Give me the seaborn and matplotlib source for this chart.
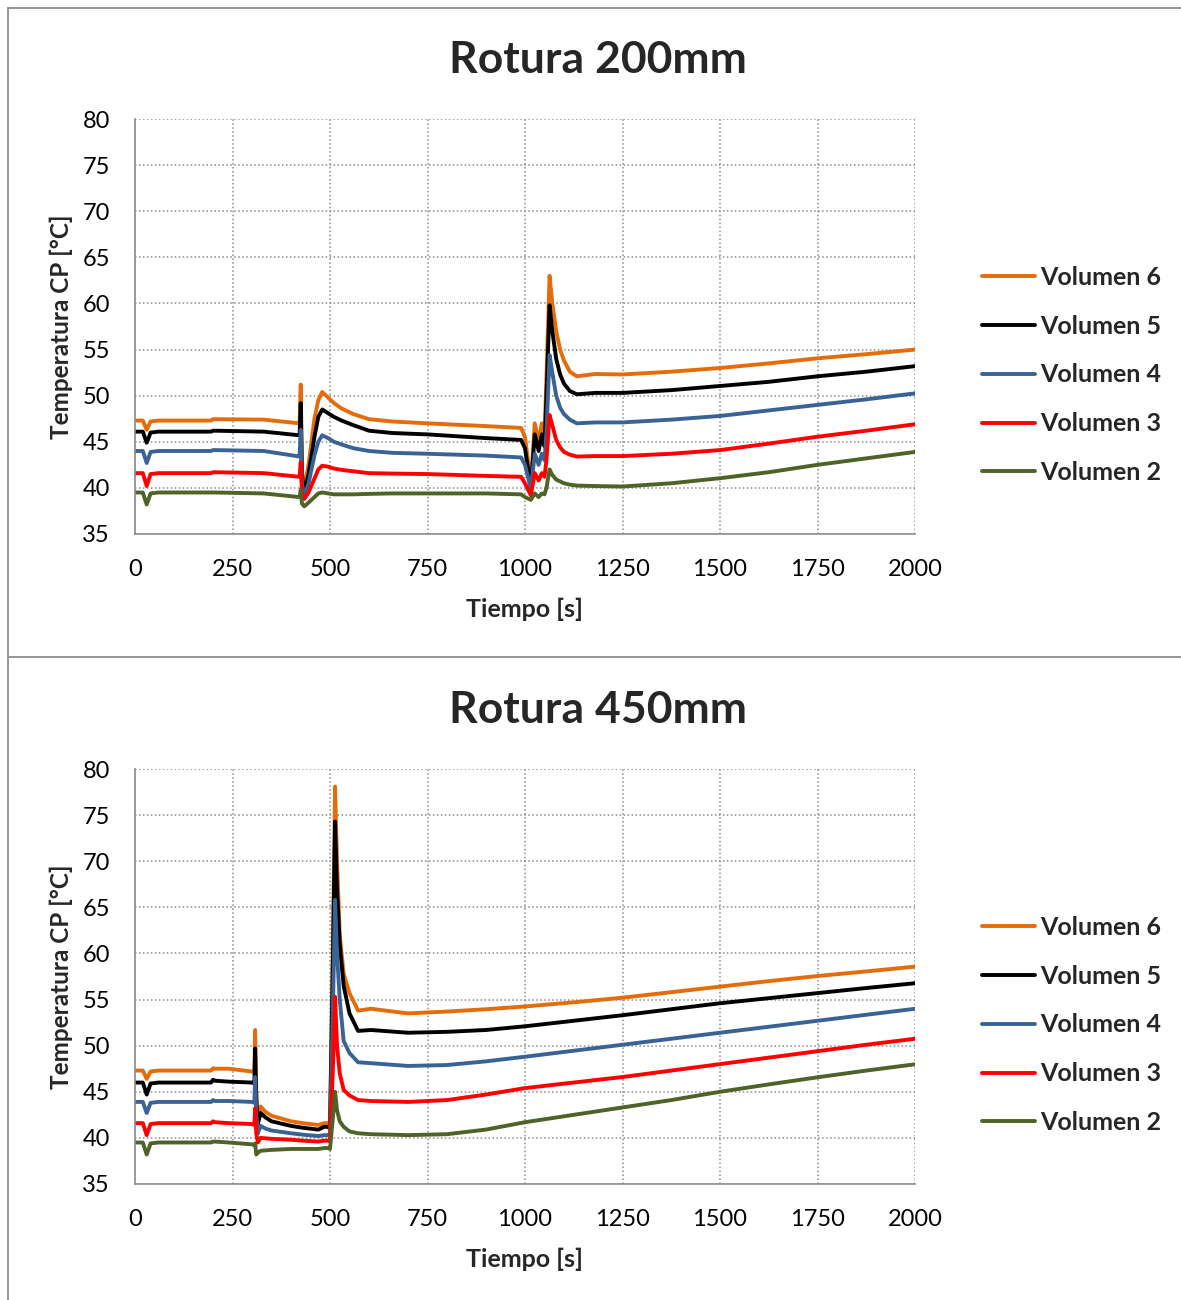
import matplotlib
matplotlib.use("Agg")
import matplotlib.pyplot as plt
from matplotlib.lines import Line2D
import numpy as np
import pandas as pd
import seaborn as sns

# ---------------- data: Rotura 200mm ----------------
t_200 = [0, 20, 30, 40, 60, 195, 200, 205, 330, 422, 425, 428, 434, 445, 460, 470, 480,
         495, 510, 530, 560, 600, 660, 750, 900, 990, 1000, 1015, 1025, 1035, 1043, 1050,
         1055, 1063, 1070, 1080, 1090, 1100, 1115, 1133, 1180, 1250, 1375, 1500, 1625,
         1750, 1875, 2000]
v6_200 = [47.3, 47.3, 46.3, 47.2, 47.3, 47.3, 47.45, 47.45, 47.4, 47.0, 51.2, 42.0, 39.8, 42.5, 47.5, 49.5, 50.4,
          49.8, 49.2, 48.6, 48.0, 47.45, 47.2, 47.0, 46.7, 46.5, 45.5, 40.5, 47.0, 45.0, 47.0, 45.5,
          52.0, 63.0, 60.0, 57.0, 55.0, 53.8, 52.6, 52.1, 52.35, 52.3, 52.6, 53.0, 53.5,
          54.05, 54.5, 55.0]
v5_200 = [46.1, 46.1, 44.9, 46.0, 46.1, 46.1, 46.2, 46.2, 46.1, 45.7, 49.2, 41.5, 39.3, 41.5, 45.5, 47.7, 48.5,
          48.1, 47.7, 47.3, 46.8, 46.2, 45.95, 45.8, 45.4, 45.2, 44.3, 40.0, 45.8, 44.0, 45.8, 44.5,
          50.0, 59.8, 57.0, 54.0, 52.3, 51.3, 50.5, 50.15, 50.3, 50.3, 50.6, 51.05, 51.5,
          52.1, 52.6, 53.2]
v4_200 = [44.0, 44.0, 42.7, 43.9, 44.0, 44.0, 44.1, 44.1, 44.0, 43.4, 46.3, 40.5, 39.0, 40.5, 43.5, 45.0, 45.7,
          45.4, 45.0, 44.7, 44.3, 44.0, 43.8, 43.7, 43.5, 43.3, 42.5, 39.9, 43.7, 42.5, 43.7, 43.0,
          46.0, 54.4, 52.5, 50.0, 48.7, 48.0, 47.4, 47.0, 47.1, 47.1, 47.4, 47.8, 48.4,
          49.0, 49.6, 50.25]
v3_200 = [41.6, 41.6, 40.2, 41.5, 41.6, 41.6, 41.7, 41.7, 41.6, 41.2, 42.8, 39.5, 38.8, 39.5, 41.0, 42.0, 42.4,
          42.3, 42.1, 41.95, 41.8, 41.6, 41.55, 41.5, 41.3, 41.2, 40.5, 39.2, 41.6, 40.8, 41.6, 41.2,
          43.0, 47.9, 46.8, 45.2, 44.4, 43.9, 43.6, 43.4, 43.45, 43.45, 43.7, 44.1, 44.8,
          45.55, 46.2, 46.9]
v2_200 = [39.5, 39.5, 38.2, 39.4, 39.5, 39.5, 39.5, 39.5, 39.4, 39.0, 39.8, 38.3, 38.0, 38.4, 39.0, 39.4, 39.5,
          39.4, 39.3, 39.3, 39.3, 39.35, 39.4, 39.4, 39.4, 39.3, 39.0, 38.7, 39.4, 39.0, 39.4, 39.3,
          40.0, 42.0, 41.4, 40.9, 40.7, 40.5, 40.35, 40.25, 40.2, 40.15, 40.5, 41.05, 41.7,
          42.5, 43.2, 43.9]

# ---------------- data: Rotura 450mm ----------------
t_450 = [0, 20, 30, 40, 60, 195, 200, 205, 240, 300, 306, 308, 311, 315, 322, 335, 350, 400,
         430, 470, 485, 495, 500, 507, 513, 518, 525, 535, 550, 572, 605, 700, 800, 900,
         1000, 1125, 1250, 1375, 1500, 1625, 1750, 1875, 2000]
v6_450 = [47.3, 47.3, 46.4, 47.2, 47.3, 47.3, 47.55, 47.5, 47.5, 47.2, 47.1, 51.7, 45.0, 42.0, 43.4, 42.8, 42.4, 41.8,
          41.6, 41.4, 41.6, 41.6, 41.4, 60.0, 78.1, 70.0, 62.0, 57.8, 55.7, 53.8, 54.0, 53.5, 53.7, 53.95,
          54.25, 54.7, 55.2, 55.8, 56.4, 57.0, 57.55, 58.05, 58.57]
v5_450 = [46.0, 46.0, 44.7, 45.9, 46.0, 46.0, 46.3, 46.2, 46.1, 46.0, 45.9, 49.7, 44.0, 41.5, 42.7, 42.2, 41.8, 41.3,
          41.1, 40.9, 41.2, 41.2, 41.0, 58.0, 74.3, 67.0, 61.0, 56.5, 53.5, 51.6, 51.7, 51.4, 51.5, 51.7,
          52.1, 52.7, 53.3, 53.95, 54.6, 55.15, 55.7, 56.25, 56.77]
v4_450 = [43.9, 43.9, 42.7, 43.8, 43.9, 43.9, 44.1, 44.0, 44.0, 43.9, 43.8, 46.6, 42.5, 40.5, 41.3, 41.0, 40.8, 40.5,
          40.35, 40.2, 40.3, 40.3, 40.2, 53.0, 65.8, 60.0, 55.0, 50.5, 49.2, 48.2, 48.1, 47.8, 47.9, 48.3,
          48.8, 49.45, 50.1, 50.75, 51.4, 52.05, 52.7, 53.35, 54.0]
v3_450 = [41.6, 41.6, 40.3, 41.5, 41.6, 41.6, 41.8, 41.7, 41.6, 41.5, 41.4, 43.2, 40.5, 39.5, 40.0, 39.95, 39.9, 39.8,
          39.7, 39.6, 39.7, 39.7, 39.6, 47.0, 55.3, 50.0, 47.0, 45.2, 44.6, 44.1, 44.0, 43.9, 44.1, 44.7,
          45.4, 46.0, 46.6, 47.3, 48.0, 48.7, 49.4, 50.1, 50.75]
v2_450 = [39.5, 39.5, 38.2, 39.4, 39.5, 39.5, 39.6, 39.6, 39.5, 39.3, 39.2, 39.4, 38.2, 38.4, 38.6, 38.65, 38.7, 38.8,
          38.8, 38.8, 38.9, 38.9, 38.8, 42.0, 45.0, 43.0, 41.8, 41.2, 40.7, 40.5, 40.4, 40.3, 40.4, 40.9,
          41.7, 42.5, 43.3, 44.1, 45.0, 45.8, 46.57, 47.3, 47.98]

series_names = ["Volumen 6", "Volumen 5", "Volumen 4", "Volumen 3", "Volumen 2"]
series_colors = ["#E46C0A", "#000000", "#3A6395", "#FF0000", "#4F6228"]
x_ticks = [0, 250, 500, 750, 1000, 1250, 1500, 1750, 2000]
y_ticks = [35, 40, 45, 50, 55, 60, 65, 70, 75, 80]


def long_frame(t, cols):
    parts = []
    for name, vals in zip(series_names, cols):
        parts.append(pd.DataFrame({"Tiempo": t, "Temp": vals, "Serie": name}))
    return pd.concat(parts, ignore_index=True)


df_200 = long_frame(t_200, [v6_200, v5_200, v4_200, v3_200, v2_200])
df_450 = long_frame(t_450, [v6_450, v5_450, v4_450, v3_450, v2_450])

sns.set_theme(style="white")
plt.rcParams["font.family"] = ["Lato", "DejaVu Sans"]

W, H = 1181, 1300
fig = plt.figure(figsize=(W / 100, H / 100), dpi=100)

LW = 2.8
panels = [
    ("Rotura 200mm", df_200, 119, 60),
    ("Rotura 450mm", df_450, 769, 710),
]

for title, df, top_px, title_px in panels:
    ax = fig.add_axes([135 / W, 1 - (top_px + 415) / H, 780 / W, 415 / H])
    sns.lineplot(data=df, x="Tiempo", y="Temp", hue="Serie", hue_order=series_names,
                 palette=series_colors, linewidth=LW, estimator=None, sort=False,
                 legend=False, ax=ax)
    ax.set_xlim(0, 2000)
    ax.set_ylim(35, 80)
    ax.set_xticks(x_ticks)
    ax.set_yticks(y_ticks)
    ax.tick_params(axis="both", labelsize=17, length=0, colors="black")
    ax.tick_params(axis="x", pad=18)
    ax.tick_params(axis="y", pad=18)
    ax.grid(True, color="#8c8c8c", linestyle=(0, (1, 1.6)), linewidth=1.1)
    for side in ["top", "right"]:
        ax.spines[side].set_visible(False)
    for side in ["left", "bottom"]:
        ax.spines[side].set_color("#8c8c8c")
        ax.spines[side].set_linewidth(1.2)
    ax.set_xlabel("Tiempo [s]", fontsize=18, fontweight="bold", labelpad=13)
    ax.set_ylabel("Temperatura CP [°C]", fontsize=17.5, fontweight="bold", labelpad=7)
    fig.text(598 / W, 1 - title_px / H, title, ha="center", va="center",
             fontsize=32, fontweight="bold")
    handles = [Line2D([], [], color=c, linewidth=LW) for c in series_colors]
    fig.legend(handles, series_names, loc="upper left",
               bbox_to_anchor=(982 / W, 1 - (top_px + 147) / H),
               frameon=False, handlelength=2.1, handletextpad=0.22,
               labelspacing=1.03, borderpad=0, borderaxespad=0,
               prop={"weight": "bold", "size": 18})

# panel frames
frame_col = "#8c8c8c"
fig.add_artist(Line2D([8 / W, 1], [1 - 8 / H, 1 - 8 / H], color=frame_col, linewidth=1.3))
fig.add_artist(Line2D([8 / W, 8 / W], [0, 1 - 8 / H], color=frame_col, linewidth=1.3))
fig.add_artist(Line2D([8 / W, 1], [1 - 657 / H, 1 - 657 / H], color=frame_col, linewidth=1.3))

fig.savefig("out.png", dpi=100)
